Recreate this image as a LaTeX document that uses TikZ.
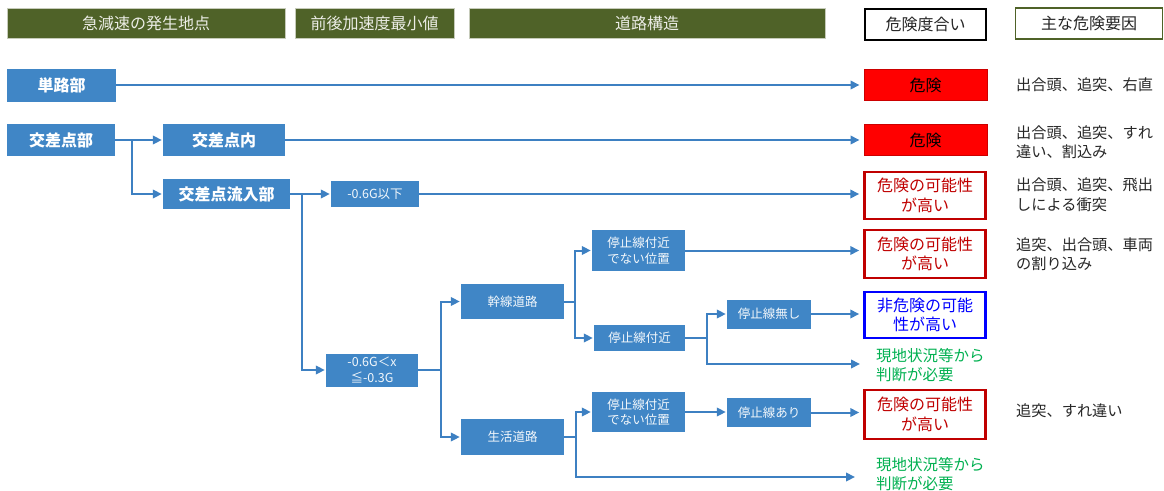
\documentclass[tikz,border=0pt]{standalone}
\usepackage{fontspec}
\setmainfont{Noto Sans CJK JP}
\usetikzlibrary{arrows.meta}
\definecolor{hdrolive}{HTML}{4F6228}
\definecolor{hdrborder}{HTML}{C6CBBA}
\definecolor{hdrtext}{HTML}{ECEDE6}
\definecolor{boxblue}{HTML}{4086C6}
\definecolor{lineblue}{HTML}{3D80C2}
\definecolor{riskdark}{HTML}{C00000}
\definecolor{riskblue}{HTML}{0000FF}
\definecolor{needgreen}{HTML}{00B050}
\definecolor{bodytext}{HTML}{262626}
\tikzset{
  hdr/.style={draw=hdrborder, line width=1pt, fill=hdrolive, text=hdrtext, inner sep=0pt,
    minimum height=30pt, font=\fontsize{16}{18}\selectfont},
  hdrwhite/.style={fill=white, text=bodytext, inner sep=0pt, minimum height=31pt,
    font=\fontsize{16}{18}\selectfont},
  bigbox/.style={fill=boxblue, text=white, inner sep=0pt, font=\bfseries\fontsize{16}{18}\selectfont},
  smallbox/.style={fill=boxblue, text=white!93!boxblue, inner sep=0pt, align=center,
    font=\fontsize{12.5}{15.5}\selectfont},
  riskfill/.style={fill=red, draw=red!80!black, line width=1pt, inner sep=0pt,
    minimum width=123pt, minimum height=31pt, text=black, font=\fontsize{16}{19}\selectfont},
  riskframe/.style={fill=white, line width=2.5pt, inner sep=0pt, align=center,
    minimum width=121pt, font=\fontsize{16}{19.5}\selectfont},
  needtext/.style={anchor=west, inner sep=0pt, align=left, text=needgreen,
    font=\fontsize{15.5}{19.5}\selectfont},
  factor/.style={anchor=west, inner sep=0pt, align=left, text=bodytext,
    font=\fontsize{15.2}{19.5}\selectfont},
  conn/.style={draw=lineblue, line width=2pt, -{Triangle[length=9pt,width=8.5pt]}, shorten >=1pt},
  connr/.style={conn, shorten >=4pt}
}
\begin{document}
\begin{tikzpicture}[x=1pt,y=-1pt]
\useasboundingbox (0,0) rectangle (1164,490);
% headers
\node[hdr, minimum width=278pt] (h1) at (146,23) {急減速の発生地点};
\node[hdr, minimum width=159pt] (h2) at (374.5,23) {前後加速度最小値};
\node[hdr, minimum width=356pt] (h3) at (647,23) {道路構造};
\node[hdrwhite, draw=black, line width=2pt, minimum width=121pt] (h4) at (925.5,24) {危険度合い};
\node[hdrwhite, draw=hdrolive, line width=1.5pt, minimum width=147pt] (h5) at (1089,23.5) {主な危険要因};
% left boxes
\node[bigbox, minimum width=109pt, minimum height=33pt] (a1) at (61.5,85) {単路部};
\node[bigbox, minimum width=108pt, minimum height=32pt] (a2) at (61,140) {交差点部};
\node[bigbox, minimum width=122pt, minimum height=32pt] (b1) at (224,140) {交差点内};
\node[bigbox, minimum width=127pt, minimum height=30pt] (b2) at (226.5,194) {交差点流入部};
% small boxes
\node[smallbox, minimum width=88pt, minimum height=26pt] (c1) at (375,194) {-0.6G以下};
\node[smallbox, minimum width=92pt, minimum height=33pt] (c2) at (372,370) {-0.6G＜x\\≦-0.3G};
\node[smallbox, minimum width=103pt, minimum height=35pt] (d1) at (512.5,301.5) {幹線道路};
\node[smallbox, minimum width=103pt, minimum height=36pt] (d2) at (512.5,437) {生活道路};
\node[smallbox, minimum width=93pt, minimum height=41pt] (e1) at (638.5,250.5) {停止線付近\\でない位置};
\node[smallbox, minimum width=91pt, minimum height=26pt] (e2) at (639.5,338) {停止線付近};
\node[smallbox, minimum width=93pt, minimum height=40pt] (e3) at (638.5,412) {停止線付近\\でない位置};
\node[smallbox, minimum width=84pt, minimum height=29pt] (f1) at (769,314) {停止線無し};
\node[smallbox, minimum width=84pt, minimum height=29pt] (f2) at (769,412.5) {停止線あり};
% risk boxes
\node[riskfill] (r1) at (925.5,85) {危険};
\node[riskfill] (r2) at (925.5,140) {危険};
\node[riskframe, draw=riskdark, text=riskdark, minimum height=47pt] (r3) at (925,195.5) {危険の可能性\\が高い};
\node[riskframe, draw=riskdark, text=riskdark, minimum height=48pt] (r4) at (925,254) {危険の可能性\\が高い};
\node[riskframe, draw=riskblue, text=riskblue, minimum height=46pt] (r5) at (925,315) {非危険の可能\\性が高い};
\node[riskframe, draw=riskdark, text=riskdark, minimum height=49pt] (r6) at (925,414.5) {危険の可能性\\が高い};
\node[needtext] (g1) at (876,365) {現地状況等から\\判断が必要};
\node[needtext] (g2) at (876,474) {現地状況等から\\判断が必要};
\coordinate (g1tip) at (864,364);
\coordinate (g2tip) at (859,477);
% factors
\node[factor] (t1) at (1016,85) {出合頭、追突、右直};
\node[factor] (t2) at (1016,142) {出合頭、追突、すれ\\違い、割込み};
\node[factor] (t3) at (1016,194.5) {出合頭、追突、飛出\\しによる衝突};
\node[factor] (t4) at (1016,254) {追突、出合頭、車両\\の割り込み};
\node[factor] (t5) at (1016,411) {追突、すれ違い};
% connectors
\draw[connr] (a1.east) -- (a1.east -| r1.west);
\draw[conn] (a2.east) -- (b1.west);
\draw[conn] (a2.east) -- ++(17,0) |- (b2.west);
\draw[connr] (b1.east) -- (b1.east -| r2.west);
\draw[conn] (b2.east) -- (c1.west);
\draw[conn] (b2.east) -- ++(12,0) |- (c2.west);
\draw[connr] (c1.east) -- (c1.east -| r3.west);
\draw[conn] (c2.east) -- ++(23,0) |- (d1.west);
\draw[conn] (c2.east) -- ++(23,0) |- (d2.west);
\draw[conn] (d1.east) -- ++(11,0) |- (e1.west);
\draw[conn] (d1.east) -- ++(11,0) |- (e2.west);
\draw[connr] (e1.east) -- (e1.east -| r4.west);
\draw[conn] (e2.east) -- ++(22,0) |- (f1.west);
\draw[connr] (e2.east) -- ++(22,0) |- (g1tip);
\draw[connr] (f1.east) -- (f1.east -| r5.west);
\draw[conn] (d2.east) -- ++(12,0) |- (e3.west);
\draw[connr] (d2.east) -- ++(12,0) |- (g2tip);
\draw[conn] (e3.east) -- (e3.east -| f2.west);
\draw[connr] (f2.east) -- (f2.east -| r6.west);
\end{tikzpicture}
\end{document}
